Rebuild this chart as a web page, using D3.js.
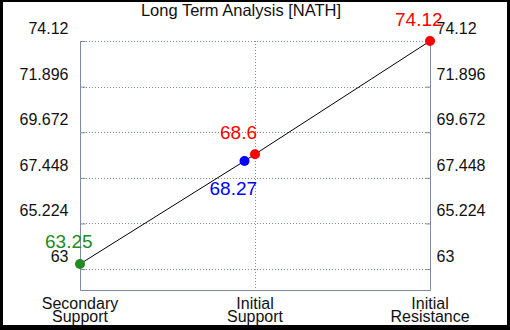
<!DOCTYPE html>
<html>
<head>
<meta charset="utf-8">
<script src="https://cdn.jsdelivr.net/npm/d3@7"></script>
<style>
  body { margin: 0; background: #000; }
  svg { display: block; font-family: "Liberation Sans", Arial, sans-serif; }
</style>
</head>
<body>
<div id="chart"></div>
<script>
// Data
// =================================
const categories = ["Secondary Support", "Initial Support", "Initial Resistance"];
const yTicks = [63, 65.224, 67.448, 69.672, 71.896, 74.12];
const pointPos = [0, 0.94, 1, 2];            // position along the category axis
const pointValues = [63.25, 68.27, 68.6, 74.12];
const pointColors = ["#228b22", "#0000ff", "#ff0000", "#ff0000"];
const labelBelow = [false, true, false, false];

// Set up chart
// =================================
const svgWidth = 510;
const svgHeight = 330;
const margin = { top: 41, right: 80, bottom: 40, left: 80 };
const width = svgWidth - margin.left - margin.right;
const height = svgHeight - margin.top - margin.bottom;

const svg = d3.select("#chart")
  .append("svg")
  .attr("width", svgWidth)
  .attr("height", svgHeight);

// white card inside black frame
svg.append("rect")
  .attr("x", 3).attr("y", 2)
  .attr("width", 504).attr("height", 323)
  .attr("fill", "#fff");

svg.append("text")
  .attr("x", 241)
  .attr("y", 16)
  .attr("text-anchor", "middle")
  .style("font-size", "16.5px")
  .attr("fill", "#111")
  .text("Long Term Analysis [NATH]");

const chartGroup = svg.append("g")
  .attr("transform", `translate(${margin.left}, ${margin.top})`);

// Scales
// =================================
const xScale = d3.scaleLinear().domain([0, categories.length - 1]).range([0, width]);
const yScale = d3.scaleLinear().domain([61.98, 74.12]).range([height, 0]);

const axisColor = "#7d8ca6";

// gridlines
chartGroup.append("g")
  .selectAll("line")
  .data(yTicks)
  .enter()
  .append("line")
  .attr("x1", 0).attr("x2", width)
  .attr("y1", d => Math.round(yScale(d)) + 0.5)
  .attr("y2", d => Math.round(yScale(d)) + 0.5)
  .attr("stroke", axisColor)
  .attr("stroke-dasharray", "1,2");

chartGroup.append("g")
  .selectAll("line")
  .data(d3.range(1, categories.length - 1))
  .enter()
  .append("line")
  .attr("x1", d => Math.round(xScale(d)) + 0.5)
  .attr("x2", d => Math.round(xScale(d)) + 0.5)
  .attr("y1", 0).attr("y2", height)
  .attr("stroke", axisColor)
  .attr("stroke-dasharray", "1,2");

// Axes
// =================================
const leftAxis = d3.axisLeft(yScale).tickValues(yTicks).tickSize(-5).tickFormat(d3.format(""));
const rightAxis = d3.axisRight(yScale).tickValues(yTicks).tickSize(-5).tickFormat(d3.format(""));

const gl = chartGroup.append("g").attr("transform", "translate(0.5,0)").call(leftAxis);
const gr = chartGroup.append("g").attr("transform", `translate(${width + 0.5},0)`).call(rightAxis);

[gl, gr].forEach(g => {
  g.select(".domain").remove();
  g.selectAll(".tick line").attr("stroke", axisColor);
  g.selectAll(".tick text")
    .attr("fill", "#111")
    .style("font-size", "16px")
    .attr("dy", "-7.5");
});
gl.selectAll(".tick text").attr("x", -12);
gr.selectAll(".tick text").attr("x", 6);

// axis frame: left, right, bottom
chartGroup.append("path")
  .attr("d", `M0.5,0V${height + 0.5}H${width + 0.5}V0`)
  .attr("fill", "none")
  .attr("stroke", axisColor);

// category labels
const catText = chartGroup.append("g")
  .selectAll("text")
  .data(categories)
  .enter()
  .append("text")
  .attr("text-anchor", "middle")
  .attr("transform", (d, i) => `translate(${xScale(i)}, ${height + 19})`)
  .style("font-size", "16px")
  .attr("fill", "#111");

catText.selectAll("tspan")
  .data(d => d.split(" "))
  .enter()
  .append("tspan")
  .attr("x", 0)
  .attr("y", (d, i) => i * 13)
  .text(d => d);

// line + points
// =================================
const pts = pointValues.map((v, i) => ({ x: pointPos[i], v: v, c: pointColors[i], below: labelBelow[i] }));

chartGroup.append("path")
  .datum(pts)
  .attr("d", d3.line().x(d => xScale(d.x)).y(d => yScale(d.v)))
  .attr("fill", "none")
  .attr("stroke", "#000")
  .attr("stroke-width", 1);

chartGroup.selectAll("circle")
  .data(pts)
  .enter()
  .append("circle")
  .attr("cx", d => xScale(d.x))
  .attr("cy", d => yScale(d.v))
  .attr("r", 5)
  .attr("fill", d => d.c);

chartGroup.append("g")
  .selectAll("text")
  .data(pts)
  .enter()
  .append("text")
  .attr("x", d => xScale(d.x) - 35)
  .attr("y", d => yScale(d.v) + (d.below ? 34 : -15.5))
  .style("font-size", "19px")
  .attr("fill", d => d.c)
  .text(d => d.v);
</script>
</body>
</html>
